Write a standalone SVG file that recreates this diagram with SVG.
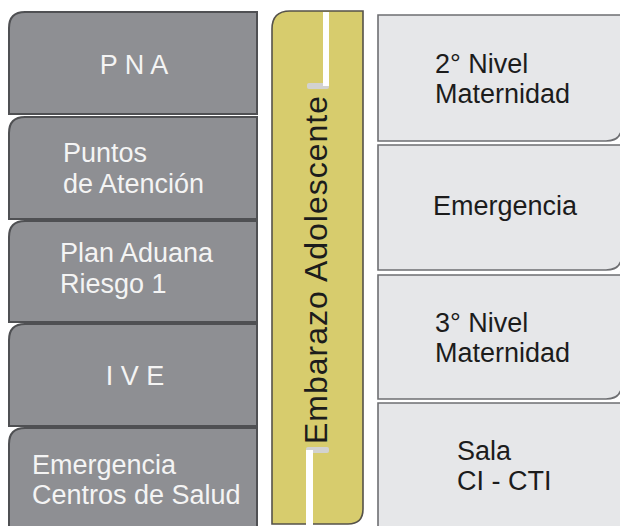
<svg xmlns="http://www.w3.org/2000/svg" width="620" height="526" viewBox="0 0 620 526">
<style>
.lbox{fill:#8e8f93;stroke:#4f5053;stroke-width:2}
.rbox{fill:#e6e7e9;stroke:#6e6f72;stroke-width:1.6}
.lt{font-family:"Liberation Sans",Arial,Helvetica,sans-serif;font-size:27px;fill:#f4f4f4}
.rt{font-family:"Liberation Sans",Arial,Helvetica,sans-serif;font-size:27px;fill:#1c1c1c}
.bt{font-family:"Liberation Sans",Arial,Helvetica,sans-serif;font-size:32px;fill:#1c1c1c}
</style>
<rect width="620" height="526" fill="#ffffff"/>
<g id="left-column">
<g id="node-pna">
<path class="lbox" d="M9,114 V28 Q9,12 25,12 H257 V114 Z"/>
<text class="lt" x="134" y="74" text-anchor="middle">P N A</text>
</g>
<g id="node-puntos">
<path class="lbox" d="M9,219 V133 Q9,117 25,117 H257 V219 Z"/>
<text class="lt" x="63" y="162">Puntos</text>
<text class="lt" x="63" y="193">de Atención</text>
</g>
<g id="node-plan">
<path class="lbox" d="M9,322 V237 Q9,221 25,221 H257 V322 Z"/>
<text class="lt" x="60" y="262">Plan Aduana</text>
<text class="lt" x="60" y="293">Riesgo 1</text>
</g>
<g id="node-ive">
<path class="lbox" d="M9,426 V340 Q9,324 25,324 H257 V426 Z"/>
<text class="lt" x="135" y="385" text-anchor="middle">I V E</text>
</g>
<g id="node-emergencia-cs">
<path class="lbox" d="M9,540 V444 Q9,428 25,428 H257 V540 Z"/>
<text class="lt" x="32" y="474">Emergencia</text>
<text class="lt" x="32" y="504">Centros de Salud</text>
</g>
</g>
<g id="node-embarazo">
<path d="M272,524 V29 Q272,11 290,11 H363 V509 Q363,524 348,524 Z" fill="#d7cc6d" stroke="#55524a" stroke-width="1.6"/>
<rect x="307" y="83" width="22" height="6" rx="2" fill="#d2d2d0"/>
<rect x="323" y="12" width="6" height="74" fill="#ffffff"/>
<rect x="306" y="447" width="23" height="6" rx="2" fill="#d2d2d0"/>
<rect x="306" y="450" width="7" height="76" fill="#ffffff"/>
<text class="bt" transform="translate(327,270) rotate(-90)" text-anchor="middle" textLength="348" lengthAdjust="spacing">Embarazo Adolescente</text>
</g>
<g id="right-column">
<g id="node-2nivel">
<path class="rbox" d="M378,15 H622 V125 Q622,141 606,141 H378 Z"/>
<text class="rt" x="435" y="73">2° Nivel</text>
<text class="rt" x="435" y="103">Maternidad</text>
</g>
<g id="node-emergencia">
<path class="rbox" d="M378,145 H622 V254 Q622,270 606,270 H378 Z"/>
<text class="rt" x="433" y="215">Emergencia</text>
</g>
<g id="node-3nivel">
<path class="rbox" d="M378,275 H622 V383 Q622,399 606,399 H378 Z"/>
<text class="rt" x="435" y="332">3° Nivel</text>
<text class="rt" x="435" y="362">Maternidad</text>
</g>
<g id="node-sala">
<path class="rbox" d="M378,403 H622 V524 Q622,540 606,540 H378 Z"/>
<text class="rt" x="457" y="460">Sala</text>
<text class="rt" x="457" y="490">CI - CTI</text>
</g>
</g>
<g id="connectors"/>
</svg>
